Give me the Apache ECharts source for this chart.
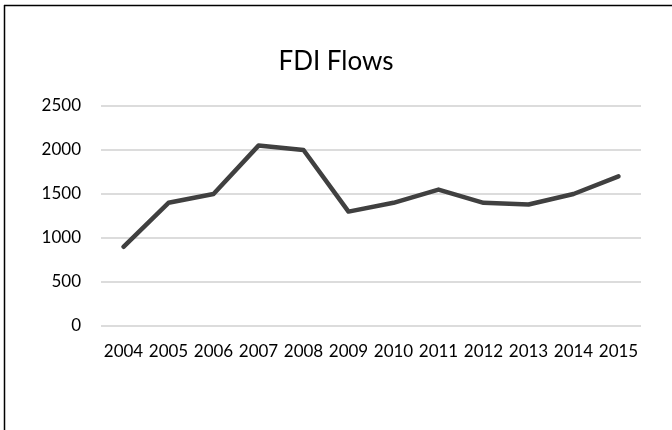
<!DOCTYPE html>
<html>
<head>
<meta charset="utf-8">
<script src="https://cdn.jsdelivr.net/npm/echarts@6/dist/echarts.min.js"></script>
<style>
html,body{margin:0;padding:0;background:#fff;}
#chart{width:672px;height:430px;}
</style>
</head>
<body>
<div id="chart"></div>
<script>
const categories = ['2004','2005','2006','2007','2008','2009','2010','2011','2012','2013','2014','2015'];
const fdiFlows = [900, 1400, 1500, 2050, 2000, 1300, 1400, 1550, 1400, 1380, 1500, 1700];
const yTicks = [0, 500, 1000, 1500, 2000, 2500];

const chart = echarts.init(document.getElementById('chart'), null, {renderer: 'canvas'});
const font = 'Lato, "Open Sans", sans-serif';
chart.setOption({
  animation: false,
  backgroundColor: '#ffffff',
  title: {
    text: 'FDI Flows',
    left: 'center',
    top: 44,
    textStyle: {fontFamily: font, fontSize: 26, fontWeight: 'normal', color: '#000'}
  },
  graphic: [
    {type: 'line', shape: {x1: 4, y1: 5.5, x2: 672, y2: 5.5}, style: {stroke: '#000', lineWidth: 1.5}, silent: true},
    {type: 'line', shape: {x1: 4.5, y1: 5, x2: 4.5, y2: 430}, style: {stroke: '#000', lineWidth: 1.5}, silent: true}
  ],
  grid: {left: 101, right: 31, top: 106, bottom: 104, containLabel: false},
  xAxis: {
    type: 'category',
    data: categories,
    boundaryGap: true,
    axisLine: {show: false},
    axisTick: {show: false},
    axisLabel: {fontFamily: font, fontSize: 17, color: '#000', margin: 17, interval: 0}
  },
  yAxis: {
    type: 'value',
    min: yTicks[0],
    max: yTicks[yTicks.length - 1],
    interval: 500,
    axisLine: {show: false},
    axisTick: {show: false},
    axisLabel: {fontFamily: font, fontSize: 17, color: '#000', margin: 20, formatter: v => String(v)},
    splitLine: {lineStyle: {color: '#d0d0d0', width: 1.5}}
  },
  series: [{
    type: 'line',
    data: fdiFlows,
    symbol: 'none',
    lineStyle: {color: '#404040', width: 4.5, cap: 'round', join: 'round'},
    itemStyle: {color: '#404040'}
  }]
});
</script>
</body>
</html>
